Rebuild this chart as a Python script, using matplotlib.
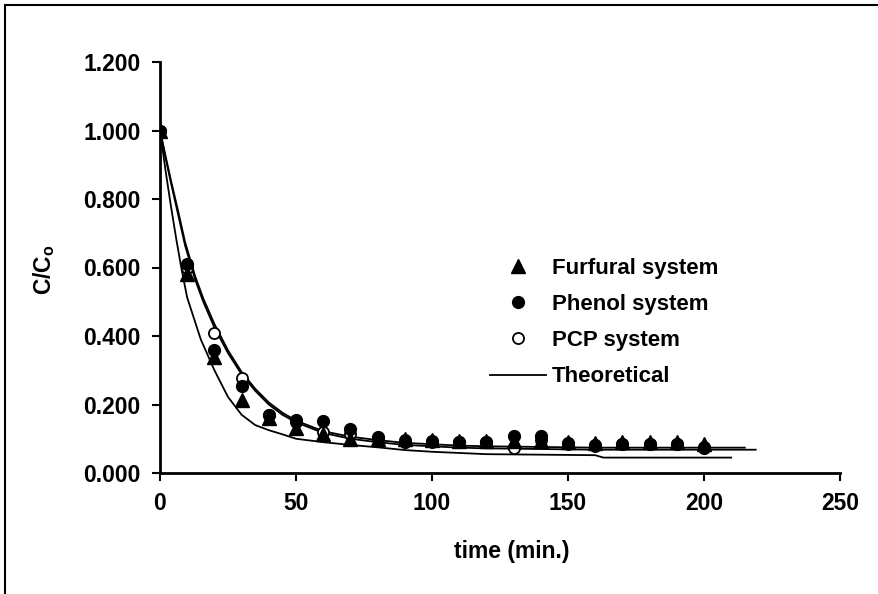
import matplotlib
matplotlib.use("Agg")
import matplotlib.pyplot as plt
from matplotlib.patches import Rectangle

plt.rcParams['font.family'] = ['Liberation Sans', 'DejaVu Sans']
plt.rcParams['font.weight'] = 'bold'

# Experimental data
time = [0, 10, 20, 30, 40, 50, 60, 70, 80, 90, 100, 110, 120, 130, 140, 150, 160, 170, 180, 190, 200]
furfural = [1.000, 0.580, 0.340, 0.213, 0.160, 0.130, 0.115, 0.100, 0.100, 0.100, 0.095, 0.093, 0.093,
            0.093, 0.093, 0.090, 0.088, 0.090, 0.090, 0.090, 0.085]
phenol = [1.000, 0.610, 0.360, 0.255, 0.170, 0.155, 0.152, 0.128, 0.105, 0.091, 0.093, 0.090, 0.090,
          0.108, 0.108, 0.087, 0.082, 0.085, 0.085, 0.085, 0.072]
pcp = [1.000, 0.600, 0.410, 0.277, 0.170, 0.150, 0.120, 0.115, 0.100, 0.096, 0.090, 0.090, 0.090,
       0.072, 0.095, 0.085, 0.080, 0.085, 0.085, 0.085, 0.075]

# Theoretical curves
theo1_t = [0, 2, 4, 6.6, 9.2, 12.9, 15.9, 20, 25, 30, 35, 40, 45, 50, 60, 70, 80, 90, 100, 110, 120, 140, 160, 180, 219]
theo1_v = [1.000, 0.922, 0.848, 0.757, 0.665, 0.565, 0.500, 0.425, 0.350, 0.288, 0.240, 0.200, 0.170, 0.148,
           0.117, 0.100, 0.090, 0.082, 0.078, 0.074, 0.072, 0.070, 0.068, 0.068, 0.068]
theo2_t = [0, 2, 4, 6.6, 9.2, 12.9, 15.9, 20, 25, 30, 35, 40, 45, 50, 60, 70, 80, 90, 100, 110, 120, 140, 160, 180, 215]
theo2_v = [1.000, 0.927, 0.855, 0.767, 0.675, 0.575, 0.510, 0.435, 0.358, 0.295, 0.246, 0.206, 0.176, 0.153,
           0.122, 0.106, 0.096, 0.088, 0.084, 0.080, 0.078, 0.076, 0.074, 0.074, 0.074]
theo3_t = [0, 2, 4, 6, 8, 10, 15, 20, 25, 30, 35, 40, 45, 50, 60, 70, 80, 90, 100, 120, 160, 163, 210]
theo3_v = [1.000, 0.885, 0.780, 0.682, 0.592, 0.512, 0.390, 0.300, 0.222, 0.170, 0.140, 0.125, 0.113, 0.100,
           0.090, 0.082, 0.075, 0.067, 0.062, 0.055, 0.052, 0.045, 0.045]

xticks = [0, 50, 100, 150, 200, 250]
yticks = [0.0, 0.2, 0.4, 0.6, 0.8, 1.0, 1.2]

W, H = 879, 594
fig = plt.figure(figsize=(W / 100, H / 100), dpi=100)
ax = fig.add_axes([160 / W, 1 - 473 / H, 680 / W, 411 / H])

ax.plot(theo1_t, theo1_v, color='black', lw=1.3, label='Theoretical', zorder=2)
ax.plot(theo2_t, theo2_v, color='black', lw=1.3, zorder=2)
ax.plot(theo3_t, theo3_v, color='black', lw=1.3, zorder=2)

ax.plot(time, pcp, linestyle='none', marker='o', ms=8, markerfacecolor='white', markeredgecolor='black',
        markeredgewidth=1.3, label='PCP system', zorder=3)
ax.plot(time, phenol, linestyle='none', marker='o', ms=8.5, color='black', label='Phenol system', zorder=4)
ax.plot(time, furfural, linestyle='none', marker='^', ms=9.5, color='black', label='Furfural system', zorder=5)

ax.set_xlim(0, 250)
ax.set_ylim(0, 1.2)
ax.set_xticks(xticks)
ax.set_yticks(yticks)
ax.set_xticklabels([str(v) for v in xticks])
ax.set_yticklabels([f"{v:.3f}" for v in yticks])

for s in ['top', 'right']:
    ax.spines[s].set_visible(False)
for s in ['left', 'bottom']:
    ax.spines[s].set_linewidth(2.0)
ax.tick_params(direction='out', length=6, width=1.5, labelsize=16.5, pad=8)
for lab in ax.get_xticklabels() + ax.get_yticklabels():
    lab.set_fontweight('bold')

ax.set_xlabel('time (min.)', fontsize=16.5, fontweight='bold')
ax.xaxis.set_label_coords((512 - 160) / 680, -0.162)
ax.set_ylabel('C/C$_\\mathregular{o}$', fontsize=16.5, fontweight='bold')
ax.yaxis.set_label_coords(-0.151, (473 - 270) / 411)

handles, labels = ax.get_legend_handles_labels()
lab_order = ['Furfural system', 'Phenol system', 'PCP system', 'Theoretical']
idx = [labels.index(l) for l in lab_order]
leg = ax.legend([handles[i] for i in idx], [labels[i] for i in idx],
                loc='upper left', bbox_to_anchor=((490 - 160) / 680, (473 - 258) / 411),
                frameon=False, fontsize=16, handlelength=2.5, handletextpad=0.3,
                labelspacing=0.68, borderpad=0, borderaxespad=0, numpoints=1)
for t in leg.get_texts():
    t.set_fontweight('bold')

# outer frame (extends beyond right/bottom edge)
fig.patches.append(Rectangle((5 / W, -0.1), 1.2, 1 - 5 / H + 0.1, transform=fig.transFigure,
                             fill=False, edgecolor='black', lw=1.5))

fig.savefig('out.png', dpi=100)
